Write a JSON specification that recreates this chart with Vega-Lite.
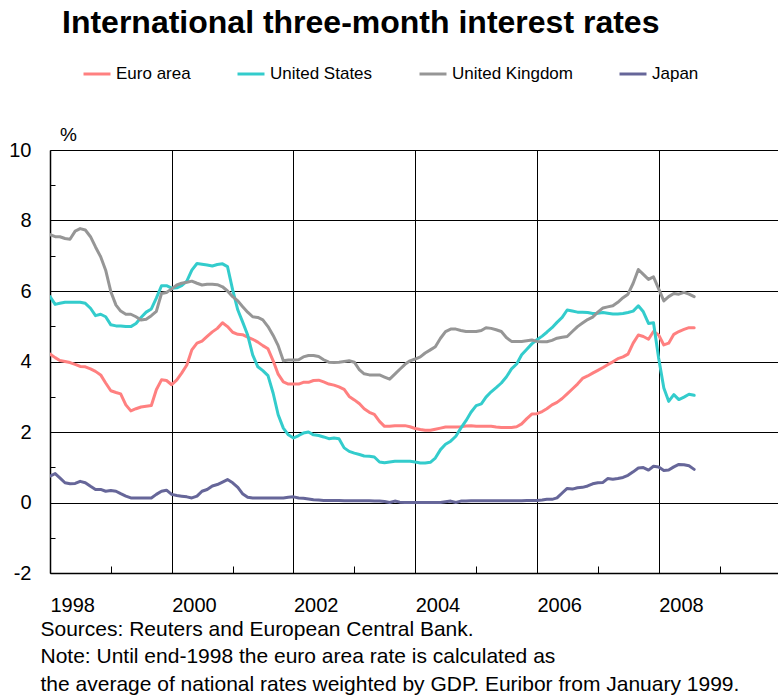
{
 "$schema": "https://vega.github.io/schema/vega-lite/v6.json",
 "width": 728,
 "height": 423,
 "autosize": "none",
 "padding": {"left": 50, "top": 150, "right": 0, "bottom": 124},
 "background": "white",
 "title": {"text": "International three-month interest rates", "anchor": "start", "frame": "group", "font": "Liberation Sans", "fontSize": 32, "fontWeight": "bold", "color": "black", "dx": 12, "dy": -19, "offset": 0},
 "data": {"values": [
{"d":"1998-01","ea":4.21,"us":5.84,"uk":7.60,"jp":0.75},
{"d":"1998-02","ea":4.11,"us":5.62,"uk":7.54,"jp":0.82},
{"d":"1998-03","ea":4.03,"us":5.65,"uk":7.54,"jp":0.70},
{"d":"1998-04","ea":4.00,"us":5.68,"uk":7.49,"jp":0.56},
{"d":"1998-05","ea":3.97,"us":5.68,"uk":7.47,"jp":0.53},
{"d":"1998-06","ea":3.92,"us":5.68,"uk":7.70,"jp":0.54},
{"d":"1998-07","ea":3.86,"us":5.68,"uk":7.77,"jp":0.60},
{"d":"1998-08","ea":3.85,"us":5.65,"uk":7.73,"jp":0.56},
{"d":"1998-09","ea":3.79,"us":5.51,"uk":7.54,"jp":0.46},
{"d":"1998-10","ea":3.72,"us":5.30,"uk":7.25,"jp":0.37},
{"d":"1998-11","ea":3.62,"us":5.34,"uk":6.97,"jp":0.37},
{"d":"1998-12","ea":3.39,"us":5.27,"uk":6.59,"jp":0.32},
{"d":"1999-01","ea":3.17,"us":5.04,"uk":5.98,"jp":0.34},
{"d":"1999-02","ea":3.12,"us":5.01,"uk":5.60,"jp":0.32},
{"d":"1999-03","ea":3.08,"us":5.01,"uk":5.43,"jp":0.25},
{"d":"1999-04","ea":2.77,"us":4.99,"uk":5.34,"jp":0.18},
{"d":"1999-05","ea":2.60,"us":4.99,"uk":5.34,"jp":0.13},
{"d":"1999-06","ea":2.66,"us":5.08,"uk":5.27,"jp":0.13},
{"d":"1999-07","ea":2.71,"us":5.25,"uk":5.18,"jp":0.13},
{"d":"1999-08","ea":2.73,"us":5.40,"uk":5.20,"jp":0.13},
{"d":"1999-09","ea":2.75,"us":5.49,"uk":5.30,"jp":0.13},
{"d":"1999-10","ea":3.20,"us":5.80,"uk":5.42,"jp":0.23},
{"d":"1999-11","ea":3.48,"us":6.15,"uk":5.93,"jp":0.32},
{"d":"1999-12","ea":3.46,"us":6.15,"uk":5.96,"jp":0.35},
{"d":"2000-01","ea":3.34,"us":6.08,"uk":6.06,"jp":0.23},
{"d":"2000-02","ea":3.48,"us":6.09,"uk":6.17,"jp":0.20},
{"d":"2000-03","ea":3.67,"us":6.15,"uk":6.22,"jp":0.18},
{"d":"2000-04","ea":3.90,"us":6.28,"uk":6.25,"jp":0.16},
{"d":"2000-05","ea":4.33,"us":6.59,"uk":6.28,"jp":0.13},
{"d":"2000-06","ea":4.52,"us":6.78,"uk":6.22,"jp":0.18},
{"d":"2000-07","ea":4.58,"us":6.76,"uk":6.17,"jp":0.32},
{"d":"2000-08","ea":4.71,"us":6.74,"uk":6.19,"jp":0.37},
{"d":"2000-09","ea":4.84,"us":6.71,"uk":6.19,"jp":0.47},
{"d":"2000-10","ea":4.94,"us":6.75,"uk":6.18,"jp":0.51},
{"d":"2000-11","ea":5.10,"us":6.77,"uk":6.12,"jp":0.58},
{"d":"2000-12","ea":4.99,"us":6.69,"uk":6.00,"jp":0.65},
{"d":"2001-01","ea":4.83,"us":6.03,"uk":5.84,"jp":0.56},
{"d":"2001-02","ea":4.77,"us":5.46,"uk":5.72,"jp":0.43},
{"d":"2001-03","ea":4.76,"us":5.13,"uk":5.56,"jp":0.25},
{"d":"2001-04","ea":4.69,"us":4.75,"uk":5.40,"jp":0.15},
{"d":"2001-05","ea":4.63,"us":4.19,"uk":5.27,"jp":0.13},
{"d":"2001-06","ea":4.55,"us":3.85,"uk":5.25,"jp":0.13},
{"d":"2001-07","ea":4.45,"us":3.74,"uk":5.18,"jp":0.13},
{"d":"2001-08","ea":4.36,"us":3.60,"uk":4.99,"jp":0.13},
{"d":"2001-09","ea":4.02,"us":3.10,"uk":4.74,"jp":0.13},
{"d":"2001-10","ea":3.64,"us":2.49,"uk":4.45,"jp":0.13},
{"d":"2001-11","ea":3.42,"us":2.11,"uk":4.02,"jp":0.13},
{"d":"2001-12","ea":3.36,"us":1.92,"uk":4.04,"jp":0.15},
{"d":"2002-01","ea":3.36,"us":1.83,"uk":4.04,"jp":0.16},
{"d":"2002-02","ea":3.36,"us":1.90,"uk":4.05,"jp":0.13},
{"d":"2002-03","ea":3.41,"us":1.97,"uk":4.13,"jp":0.12},
{"d":"2002-04","ea":3.41,"us":2.00,"uk":4.17,"jp":0.10},
{"d":"2002-05","ea":3.46,"us":1.92,"uk":4.17,"jp":0.08},
{"d":"2002-06","ea":3.47,"us":1.90,"uk":4.14,"jp":0.07},
{"d":"2002-07","ea":3.42,"us":1.86,"uk":4.05,"jp":0.06},
{"d":"2002-08","ea":3.36,"us":1.81,"uk":3.98,"jp":0.06},
{"d":"2002-09","ea":3.33,"us":1.83,"uk":3.97,"jp":0.06},
{"d":"2002-10","ea":3.28,"us":1.81,"uk":3.98,"jp":0.06},
{"d":"2002-11","ea":3.21,"us":1.55,"uk":4.00,"jp":0.05},
{"d":"2002-12","ea":3.01,"us":1.45,"uk":4.02,"jp":0.05},
{"d":"2003-01","ea":2.91,"us":1.40,"uk":3.98,"jp":0.05},
{"d":"2003-02","ea":2.80,"us":1.36,"uk":3.76,"jp":0.05},
{"d":"2003-03","ea":2.66,"us":1.32,"uk":3.65,"jp":0.05},
{"d":"2003-04","ea":2.56,"us":1.31,"uk":3.62,"jp":0.05},
{"d":"2003-05","ea":2.50,"us":1.29,"uk":3.62,"jp":0.04},
{"d":"2003-06","ea":2.30,"us":1.15,"uk":3.62,"jp":0.04},
{"d":"2003-07","ea":2.16,"us":1.13,"uk":3.56,"jp":0.03},
{"d":"2003-08","ea":2.16,"us":1.15,"uk":3.50,"jp":0.00},
{"d":"2003-09","ea":2.18,"us":1.17,"uk":3.64,"jp":0.04},
{"d":"2003-10","ea":2.18,"us":1.17,"uk":3.78,"jp":0.01},
{"d":"2003-11","ea":2.18,"us":1.17,"uk":3.92,"jp":0.00},
{"d":"2003-12","ea":2.15,"us":1.17,"uk":4.02,"jp":0.00},
{"d":"2004-01","ea":2.10,"us":1.15,"uk":4.07,"jp":0.00},
{"d":"2004-02","ea":2.07,"us":1.12,"uk":4.13,"jp":0.00},
{"d":"2004-03","ea":2.05,"us":1.12,"uk":4.24,"jp":0.00},
{"d":"2004-04","ea":2.05,"us":1.14,"uk":4.33,"jp":0.00},
{"d":"2004-05","ea":2.08,"us":1.26,"uk":4.42,"jp":0.00},
{"d":"2004-06","ea":2.11,"us":1.50,"uk":4.66,"jp":0.00},
{"d":"2004-07","ea":2.14,"us":1.65,"uk":4.85,"jp":0.02},
{"d":"2004-08","ea":2.14,"us":1.74,"uk":4.92,"jp":0.04},
{"d":"2004-09","ea":2.14,"us":1.88,"uk":4.92,"jp":0.00},
{"d":"2004-10","ea":2.15,"us":2.11,"uk":4.88,"jp":0.04},
{"d":"2004-11","ea":2.17,"us":2.32,"uk":4.85,"jp":0.04},
{"d":"2004-12","ea":2.18,"us":2.56,"uk":4.85,"jp":0.05},
{"d":"2005-01","ea":2.16,"us":2.75,"uk":4.85,"jp":0.05},
{"d":"2005-02","ea":2.16,"us":2.80,"uk":4.88,"jp":0.05},
{"d":"2005-03","ea":2.16,"us":2.99,"uk":4.96,"jp":0.05},
{"d":"2005-04","ea":2.16,"us":3.14,"uk":4.94,"jp":0.05},
{"d":"2005-05","ea":2.14,"us":3.26,"uk":4.90,"jp":0.05},
{"d":"2005-06","ea":2.13,"us":3.39,"uk":4.85,"jp":0.05},
{"d":"2005-07","ea":2.13,"us":3.56,"uk":4.68,"jp":0.05},
{"d":"2005-08","ea":2.13,"us":3.79,"uk":4.57,"jp":0.05},
{"d":"2005-09","ea":2.15,"us":3.93,"uk":4.57,"jp":0.05},
{"d":"2005-10","ea":2.23,"us":4.19,"uk":4.57,"jp":0.05},
{"d":"2005-11","ea":2.38,"us":4.35,"uk":4.59,"jp":0.06},
{"d":"2005-12","ea":2.51,"us":4.50,"uk":4.61,"jp":0.06},
{"d":"2006-01","ea":2.52,"us":4.62,"uk":4.57,"jp":0.06},
{"d":"2006-02","ea":2.58,"us":4.72,"uk":4.56,"jp":0.07},
{"d":"2006-03","ea":2.66,"us":4.83,"uk":4.56,"jp":0.09},
{"d":"2006-04","ea":2.77,"us":4.96,"uk":4.60,"jp":0.09},
{"d":"2006-05","ea":2.84,"us":5.11,"uk":4.66,"jp":0.13},
{"d":"2006-06","ea":2.95,"us":5.25,"uk":4.69,"jp":0.27},
{"d":"2006-07","ea":3.08,"us":5.46,"uk":4.71,"jp":0.40},
{"d":"2006-08","ea":3.22,"us":5.43,"uk":4.85,"jp":0.38},
{"d":"2006-09","ea":3.36,"us":5.40,"uk":4.99,"jp":0.42},
{"d":"2006-10","ea":3.52,"us":5.40,"uk":5.09,"jp":0.43},
{"d":"2006-11","ea":3.59,"us":5.39,"uk":5.19,"jp":0.47},
{"d":"2006-12","ea":3.67,"us":5.36,"uk":5.26,"jp":0.53},
{"d":"2007-01","ea":3.75,"us":5.37,"uk":5.40,"jp":0.56},
{"d":"2007-02","ea":3.83,"us":5.39,"uk":5.52,"jp":0.57},
{"d":"2007-03","ea":3.91,"us":5.37,"uk":5.55,"jp":0.68},
{"d":"2007-04","ea":3.99,"us":5.35,"uk":5.58,"jp":0.66},
{"d":"2007-05","ea":4.08,"us":5.35,"uk":5.68,"jp":0.68},
{"d":"2007-06","ea":4.13,"us":5.36,"uk":5.81,"jp":0.71},
{"d":"2007-07","ea":4.21,"us":5.39,"uk":5.91,"jp":0.77},
{"d":"2007-08","ea":4.52,"us":5.43,"uk":6.22,"jp":0.87},
{"d":"2007-09","ea":4.75,"us":5.58,"uk":6.61,"jp":0.98},
{"d":"2007-10","ea":4.71,"us":5.41,"uk":6.47,"jp":0.99},
{"d":"2007-11","ea":4.63,"us":5.08,"uk":6.33,"jp":0.92},
{"d":"2007-12","ea":4.85,"us":5.10,"uk":6.40,"jp":1.03},
{"d":"2008-01","ea":4.75,"us":4.09,"uk":6.06,"jp":1.01},
{"d":"2008-02","ea":4.47,"us":3.25,"uk":5.72,"jp":0.91},
{"d":"2008-03","ea":4.52,"us":2.87,"uk":5.84,"jp":0.92},
{"d":"2008-04","ea":4.77,"us":3.06,"uk":5.93,"jp":1.01},
{"d":"2008-05","ea":4.85,"us":2.92,"uk":5.91,"jp":1.08},
{"d":"2008-06","ea":4.91,"us":2.99,"uk":5.96,"jp":1.07},
{"d":"2008-07","ea":4.96,"us":3.07,"uk":5.91,"jp":1.04},
{"d":"2008-08","ea":4.96,"us":3.04,"uk":5.84,"jp":0.94}
 ]},
 "transform": [{"fold": ["ea", "us", "uk", "jp"], "as": ["k", "v"]}],
 "mark": {"type": "line", "strokeWidth": 3, "strokeJoin": "round", "strokeCap": "round", "clip": true},
 "encoding": {
  "x": {
   "field": "d", "type": "temporal",
   "scale": {"type": "utc", "domain": [{"year": 1998, "month": 1, "date": 1, "utc": true}, {"year": 2009, "month": 12, "date": 17, "utc": true}]},
   "axis": {
    "title": ["Sources: Reuters and European Central Bank.", "Note: Until end-1998 the euro area rate is calculated as", "the average of national rates weighted by GDP. Euribor from January 1999."],
    "titleFont": "Liberation Sans", "titleFontSize": 21, "titleFontWeight": "normal", "titleColor": "black",
    "titleAnchor": "start", "titleAlign": "left", "titleBaseline": "alphabetic", "titleX": -10, "titleY": 62, "titleLineHeight": 27.5,
    "values": [
     {"year": 1998, "month": 1, "date": 1, "utc": true}, {"year": 1999, "month": 1, "date": 1, "utc": true},
     {"year": 2000, "month": 1, "date": 1, "utc": true}, {"year": 2001, "month": 1, "date": 1, "utc": true},
     {"year": 2002, "month": 1, "date": 1, "utc": true}, {"year": 2003, "month": 1, "date": 1, "utc": true},
     {"year": 2004, "month": 1, "date": 1, "utc": true}, {"year": 2005, "month": 1, "date": 1, "utc": true},
     {"year": 2006, "month": 1, "date": 1, "utc": true}, {"year": 2007, "month": 1, "date": 1, "utc": true},
     {"year": 2008, "month": 1, "date": 1, "utc": true}, {"year": 2009, "month": 1, "date": 1, "utc": true}
    ],
    "labelExpr": "utcyear(datum.value) % 2 == 0 ? '' + utcyear(datum.value) : ''",
    "labelAlign": "left", "labelBaseline": "alphabetic", "labelPadding": 45, "labelFontSize": 20, "labelColor": "black", "labelFont": "Liberation Sans", "labelFlush": false, "labelOverlap": false,
    "tickSize": -7, "tickColor": "black", "tickWidth": 1,
    "tickOpacity": {"condition": {"test": "utcyear(datum.value) % 2 == 0", "value": 0}, "value": 1},
    "grid": true, "gridColor": "black", "gridWidth": 1,
    "gridOpacity": {"condition": {"test": "utcyear(datum.value) % 2 == 1", "value": 0}, "value": 1},
    "domainColor": "black", "domainWidth": 1.5
   }
  },
  "y": {
   "field": "v", "type": "quantitative",
   "scale": {"domain": [-2, 10], "nice": false, "zero": false},
   "axis": {
    "title": "%", "titleAngle": 0, "titleX": 18, "titleY": -10, "titleAlign": "center", "titleBaseline": "alphabetic",
    "titleFont": "Liberation Sans", "titleFontSize": 19, "titleFontWeight": "normal", "titleColor": "black",
    "values": [-2, -1, 0, 1, 2, 3, 4, 5, 6, 7, 8, 9, 10],
    "labelExpr": "datum.value % 2 == 0 ? '' + datum.value : ''",
    "labelFont": "Liberation Sans", "labelFontSize": 20, "labelColor": "black", "labelPadding": 24, "labelBaseline": "middle",
    "tickSize": -5, "tickColor": "black",
    "tickOpacity": {"condition": {"test": "datum.value % 2 == 0", "value": 0}, "value": 1},
    "grid": true, "gridColor": "black", "gridWidth": 1,
    "gridOpacity": {"condition": {"test": "datum.value % 2 != 0", "value": 0}, "value": 1},
    "domainColor": "black", "domainWidth": 1.5
   }
  },
  "color": {
   "field": "k", "type": "nominal",
   "scale": {"domain": ["ea", "us", "uk", "jp"], "range": ["#FF8080", "#33CCCC", "#969696", "#666699"]},
   "legend": {
    "orient": "none", "legendX": 32, "legendY": -91, "direction": "horizontal", "title": null,
    "symbolType": "stroke", "symbolSize": 729, "symbolStrokeWidth": 3,
    "labelFont": "Liberation Sans", "labelFontSize": 17, "labelColor": "black", "labelOffset": 4, "columnPadding": 40, "padding": 0,
    "labelExpr": "datum.label == 'ea' ? 'Euro area' : datum.label == 'us' ? 'United States' : datum.label == 'uk' ? 'United Kingdom' : 'Japan'"
   }
  }
 },
 "config": {"view": {"stroke": null}, "font": "Liberation Sans"}
}
